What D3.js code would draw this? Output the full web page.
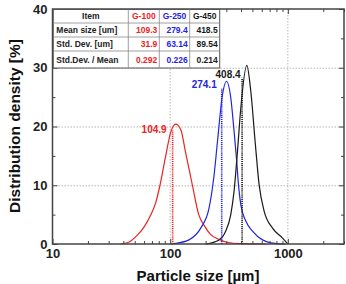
<!DOCTYPE html>
<html>
<head>
<meta charset="utf-8">
<script src="https://cdn.jsdelivr.net/npm/d3@7"></script>
<style>
  html, body { margin: 0; padding: 0; background: #fff; }
  svg { display: block; font-family: "Liberation Sans", Arial, sans-serif; }
</style>
</head>
<body>
<svg class="vis" width="346" height="284"></svg>
<script>

// ---- data ----

const seriesNames = ["G-100", "G-250", "G-450"];

// [particle size in um, distribution density in %]
const g100Curve = [
    [37.9, 0], [44.4, 0.3], [52.6, 1.5], [59.5, 2.8], [68.2, 4.9], [75.3, 7],
    [81.9, 10], [91.6, 15], [101, 19], [111.4, 20.4], [122.9, 19.5],
    [135.5, 15.5], [154.5, 10], [174.8, 5], [196.7, 3], [221.2, 1.6],
    [258.8, 0.8], [302.7, 0.3], [398, 0.05], [650, 0]
];

const g250Curve = [
    [101, 0], [111.4, 0.1], [144.5, 0.7], [181.8, 2.7], [213.9, 6.1],
    [236, 11.7], [252.2, 17.4], [278.2, 25.4], [300.8, 27.7], [327.3, 24.9],
    [349.1, 19.2], [365.9, 14.6], [380.5, 10.1], [398.1, 6.7], [439.2, 3.9],
    [500.7, 2.2], [609, 0.7], [716.6, 0.2], [950, 0]
];

const g450Curve = [
    [200.5, 0], [260.2, 0.7], [296.7, 2.2], [327.3, 5], [349.1, 9],
    [373.2, 15.8], [398.1, 23.1], [447.7, 30.4], [484.3, 26], [526.8, 17.5],
    [569.8, 10.1], [628.6, 5.6], [741, 2.7], [901.6, 1], [1000, 0]
];

// median markers (dotted lines) and their labels
const markerSizes   = [104.9, 274.1, 408.4];
const markerHeights = [19.4, 26.5, 28.3];
const markerLabels  = ["104.9", "274.1", "408.4"];

// table
const tableHeader = ["Item", "G-100", "G-250", "G-450"];
const rowLabels   = ["Mean size [um]", "Std. Dev. [um]", "Std.Dev. / Mean"];
const g100Stats   = ["109.3", "31.9", "0.292"];
const g250Stats   = ["279.4", "63.14", "0.226"];
const g450Stats   = ["418.5", "89.54", "0.214"];

// axes
const xMajorTicks = [10, 100, 1000];
const yMajorTicks = [0, 10, 20, 30, 40];
const yMinorTicks = [5, 15, 25, 35];
const xTitle = "Particle size [\u00b5m]";
const yTitle = "Distribution density [%]";

// ---- drawing ----

const vis = {

    dims: { left: 52.5, right: 344, top: 9, bottom: 244 },

    colors: ["#ee2222", "#2424dd", "#1a1a1a"],

    // label offsets relative to the top of each dotted line
    label_off: [[-6, 3], [-5, 0], [-1.5, 0]],

    init: function() {

        const svg = d3.select("svg.vis");
        const d = vis.dims;

        const x = d3.scaleLog().domain([10, 3000]).range([d.left, d.right]);
        const y = d3.scaleLinear().domain([0, 40]).range([d.bottom, d.top]);

        const allLog = [];
        [10, 100, 1000].forEach(dec => {
            for (let k = 1; k < 10; k++) {
                const v = dec * k;
                if (v <= 3000) allLog.push(v);
            }
        });
        const xMinor = allLog.filter(v => !xMajorTicks.includes(v));

        // grid
        const grid = svg.append("g")
            .attr("stroke", "#b8b8b8")
            .attr("stroke-width", 1)
            .attr("stroke-dasharray", "1.5,1.5");

        grid.selectAll("line.h")
            .data([10, 20, 30])
            .join("line")
            .attr("x1", d.left).attr("x2", d.right)
            .attr("y1", v => y(v) + 0.5).attr("y2", v => y(v) + 0.5);

        grid.selectAll("line.v")
            .data([100, 1000])
            .join("line")
            .attr("x1", v => x(v)).attr("x2", v => x(v))
            .attr("y1", d.top).attr("y2", d.bottom);

        // curves
        const line = d3.line()
            .x(p => x(p[0]))
            .y(p => y(p[1]))
            .curve(d3.curveMonotoneX);

        [g100Curve, g250Curve, g450Curve].forEach((c, i) => {
            svg.append("path")
                .datum(c)
                .attr("d", line)
                .attr("fill", "none")
                .attr("stroke", vis.colors[i])
                .attr("stroke-width", 1.2);
        });

        // dotted marker lines
        markerSizes.forEach((m, i) => {
            svg.append("line")
                .attr("x1", x(m)).attr("x2", x(m))
                .attr("y1", y(0)).attr("y2", y(markerHeights[i]))
                .attr("stroke", vis.colors[i])
                .attr("stroke-width", 1.6)
                .attr("stroke-dasharray", "1.2,0.9");

            svg.append("text")
                .attr("x", x(m) + vis.label_off[i][0])
                .attr("y", y(markerHeights[i]) + vis.label_off[i][1])
                .attr("text-anchor", "end")
                .attr("font-size", 10)
                .attr("font-weight", "bold")
                .attr("fill", vis.colors[i])
                .text(markerLabels[i]);
        });

        // axes with inward ticks
        const axisColor = "#444";

        const axes = [
            svg.append("g").attr("transform", `translate(0,${d.bottom})`)
                .call(d3.axisBottom(x).tickValues(xMajorTicks).tickSizeInner(-5).tickSizeOuter(0)
                    .tickPadding(5).tickFormat(d3.format("d"))),
            svg.append("g").attr("transform", `translate(0,${d.bottom})`)
                .call(d3.axisBottom(x).tickValues(xMinor).tickSizeInner(-3).tickSizeOuter(0).tickFormat("")),
            svg.append("g").attr("transform", `translate(0,${d.top})`)
                .call(d3.axisTop(x).tickValues(xMajorTicks).tickSizeInner(-5).tickSizeOuter(0).tickFormat("")),
            svg.append("g").attr("transform", `translate(0,${d.top})`)
                .call(d3.axisTop(x).tickValues(xMinor).tickSizeInner(-3).tickSizeOuter(0).tickFormat("")),
            svg.append("g").attr("transform", `translate(${d.left},0)`)
                .call(d3.axisLeft(y).tickValues(yMajorTicks).tickSizeInner(-5).tickSizeOuter(0).tickPadding(5)),
            svg.append("g").attr("transform", `translate(${d.left},0)`)
                .call(d3.axisLeft(y).tickValues(yMinorTicks).tickSizeInner(-3).tickSizeOuter(0).tickFormat("")),
            svg.append("g").attr("transform", `translate(${d.right},0)`)
                .call(d3.axisRight(y).tickValues(yMajorTicks).tickSizeInner(-5).tickSizeOuter(0).tickFormat("")),
            svg.append("g").attr("transform", `translate(${d.right},0)`)
                .call(d3.axisRight(y).tickValues(yMinorTicks).tickSizeInner(-3).tickSizeOuter(0).tickFormat(""))
        ];

        axes.forEach(a => {
            a.select(".domain").remove();
            a.selectAll(".tick line").attr("stroke", axisColor).attr("stroke-width", 1);
            a.selectAll(".tick text")
                .attr("font-family", "'Liberation Sans', Arial, sans-serif")
                .attr("font-size", 13)
                .attr("font-weight", "bold")
                .attr("fill", "#222");
        });

        // frame
        svg.append("rect")
            .attr("x", d.left).attr("y", d.top)
            .attr("width", d.right - d.left).attr("height", d.bottom - d.top)
            .attr("fill", "none")
            .attr("stroke", axisColor)
            .attr("stroke-width", 1.5);

        // axis titles
        svg.append("text")
            .attr("x", 198)
            .attr("y", 281)
            .attr("text-anchor", "middle")
            .attr("font-size", 15)
            .attr("font-weight", "bold")
            .attr("fill", "#111")
            .text(xTitle);

        svg.append("text")
            .attr("transform", `translate(20,126) rotate(-90)`)
            .attr("text-anchor", "middle")
            .attr("font-size", 15.5)
            .attr("font-weight", "bold")
            .attr("fill", "#111")
            .text(yTitle);

        vis.table(svg);
    },

    table: function(svg) {

        const colX = [53.3, 128.3, 159.3, 189.7, 219.7];
        const rowY = [9.5, 23, 37, 51, 68];
        const cols = [rowLabels, g100Stats, g250Stats, g450Stats];

        const g = svg.append("g")
            .attr("font-size", 8.5)
            .attr("font-weight", "bold");

        g.append("rect")
            .attr("x", colX[0]).attr("y", rowY[0])
            .attr("width", colX[4] - colX[0]).attr("height", rowY[4] - rowY[0])
            .attr("fill", "#fff")
            .attr("stroke", "#555").attr("stroke-width", 1);

        rowY.slice(1, -1).forEach(ry => {
            g.append("line")
                .attr("x1", colX[0]).attr("x2", colX[4])
                .attr("y1", ry).attr("y2", ry)
                .attr("stroke", "#888").attr("stroke-width", 0.8);
        });
        colX.slice(1, -1).forEach(cx => {
            g.append("line")
                .attr("x1", cx).attr("x2", cx)
                .attr("y1", rowY[0]).attr("y2", rowY[4])
                .attr("stroke", "#888").attr("stroke-width", 0.8);
        });

        const txtColors = ["#222", "#ee2222", "#2424dd", "#1a1a1a"];

        tableHeader.forEach((h, c) => {
            g.append("text")
                .attr("x", (colX[c] + colX[c + 1]) / 2)
                .attr("y", (rowY[0] + rowY[1]) / 2 + 3)
                .attr("text-anchor", "middle")
                .attr("fill", txtColors[c])
                .text(h);
        });

        cols.forEach((col, c) => {
            col.forEach((val, r) => {
                const cy = (rowY[r + 1] + rowY[r + 2]) / 2 + 3;
                g.append("text")
                    .attr("x", c === 0 ? colX[0] + 3 : colX[c + 1] - 2)
                    .attr("y", cy)
                    .attr("text-anchor", c === 0 ? "start" : "end")
                    .attr("fill", txtColors[c])
                    .text(val);
            });
        });
    }
};

vis.init();

</script>
</body>
</html>
